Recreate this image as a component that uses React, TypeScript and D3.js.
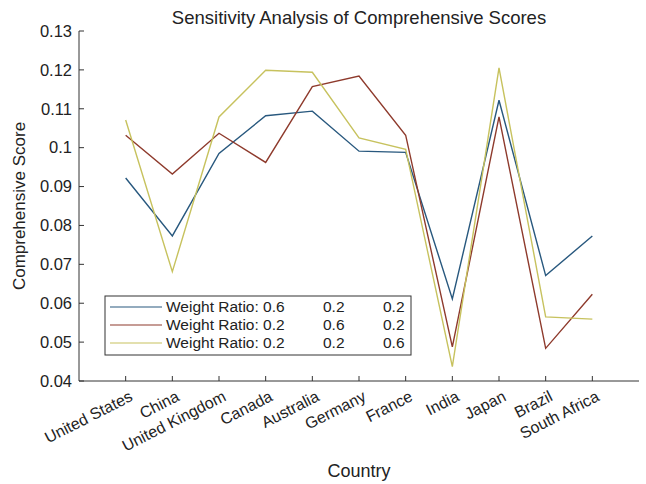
import React from "react";
import * as d3 from "d3";

const countries = ["United States", "China", "United Kingdom", "Canada", "Australia", "Germany", "France", "India", "Japan", "Brazil", "South Africa"];
const series1 = [0.0922, 0.0773, 0.0985, 0.1082, 0.1094, 0.0991, 0.0988, 0.0611, 0.1122, 0.0671, 0.0773];
const series2 = [0.1032, 0.0932, 0.1037, 0.0962, 0.1157, 0.1184, 0.1032, 0.0488, 0.1079, 0.0484, 0.0623];
const series3 = [0.1071, 0.0681, 0.1079, 0.1199, 0.1194, 0.1025, 0.0996, 0.0437, 0.1205, 0.0565, 0.0559];
const yTicks = [0.04, 0.05, 0.06, 0.07, 0.08, 0.09, 0.1, 0.11, 0.12, 0.13];
const legendRows = [
  ["Weight Ratio: 0.6", "0.2", "0.2"],
  ["Weight Ratio: 0.2", "0.6", "0.2"],
  ["Weight Ratio: 0.2", "0.2", "0.6"],
];
const colors = ["#28587e", "#8e3a2c", "#c7c25e"];

export default function App() {
  const W = 646, H = 484;
  const x = d3.scaleLinear().domain([0, 12]).range([79, 639]);
  const y = d3.scaleLinear().domain([0.04, 0.13]).range([381, 31]);
  const line = d3.line<number>().x((_, i) => x(i + 1)).y((d) => y(d));
  const all = [series1, series2, series3];
  const font = "'Liberation Sans', Arial, Helvetica, sans-serif";
  return (
    <svg width={W} height={H} style={{ position: "absolute", left: 0, top: 0, background: "#fff" }} fontFamily={font}>
      <rect x={0} y={0} width={W} height={H} fill="#fff" />
      <text x={359} y={24} textAnchor="middle" fontSize={18.5} fill="#222">Sensitivity Analysis of Comprehensive Scores</text>
      {/* axes */}
      <line x1={79} y1={31} x2={79} y2={381} stroke="#333" strokeWidth={1} />
      <line x1={79} y1={381} x2={639} y2={381} stroke="#333" strokeWidth={1} />
      {yTicks.map((t) => (
        <g key={t}>
          <line x1={79} x2={84} y1={y(t)} y2={y(t)} stroke="#333" />
          <text x={72} y={y(t)} dy="0.35em" textAnchor="end" fontSize={16.5} fill="#222">{String(t)}</text>
        </g>
      ))}
      {countries.map((c, i) => (
        <g key={c}>
          <line x1={x(i + 1)} x2={x(i + 1)} y1={381} y2={376} stroke="#333" />
          <text transform={`translate(${x(i + 1) + 3},${390}) rotate(-27)`} textAnchor="end" dy="0.7em" fontSize={16} fill="#222">{c}</text>
        </g>
      ))}
      <text x={359} y={477} textAnchor="middle" fontSize={18} fill="#222">Country</text>
      <text transform={`translate(25,206) rotate(-90)`} textAnchor="middle" fontSize={17} fill="#222">Comprehensive Score</text>
      {/* lines */}
      {all.map((s, k) => (
        <path key={k} d={line(s) || ""} fill="none" stroke={colors[k]} strokeWidth={1.4} />
      ))}
      {/* legend */}
      <rect x={105} y={296} width={306} height={59} fill="#fff" stroke="#333" strokeWidth={1} />
      {legendRows.map((r, k) => {
        const cy = 307 + k * 18;
        return (
          <g key={k}>
            <line x1={110} x2={162} y1={cy} y2={cy} stroke={colors[k]} strokeWidth={1.2} />
            <text x={166} y={cy} dy="0.35em" fontSize={15.5} fill="#222">{r[0]}</text>
            <text x={323} y={cy} dy="0.35em" fontSize={15.5} fill="#222">{r[1]}</text>
            <text x={383} y={cy} dy="0.35em" fontSize={15.5} fill="#222">{r[2]}</text>
          </g>
        );
      })}
    </svg>
  );
}
